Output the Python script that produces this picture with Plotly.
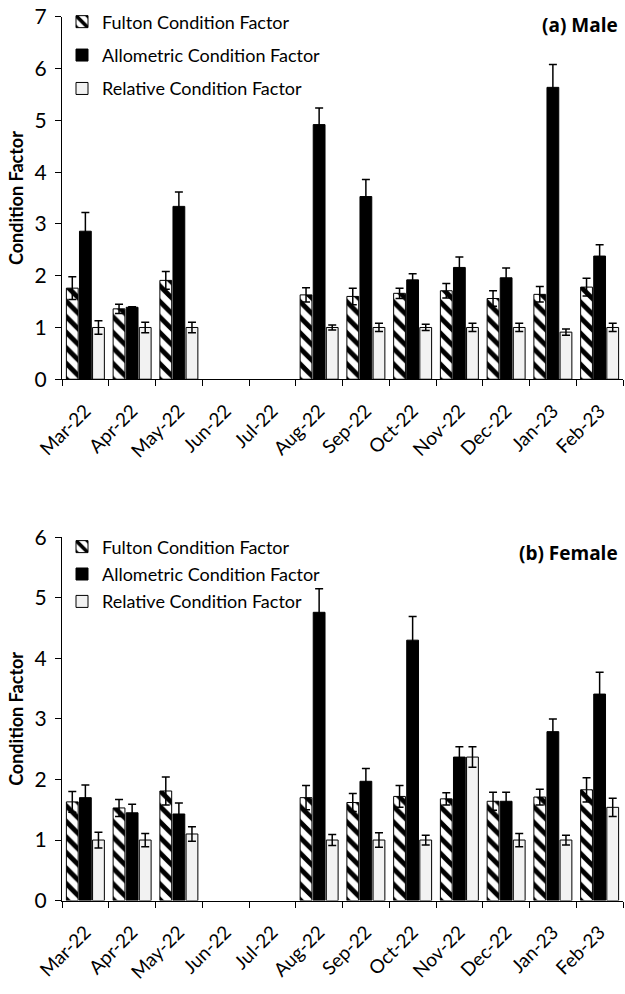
import plotly.graph_objects as go

months = ["Mar-22", "Apr-22", "May-22", "Jun-22", "Jul-22", "Aug-22",
          "Sep-22", "Oct-22", "Nov-22", "Dec-22", "Jan-23", "Feb-23"]

# (a) Male
fulton_m = [1.76, 1.36, 1.91, None, None, 1.63, 1.60, 1.66, 1.71, 1.56, 1.64, 1.78]
fulton_m_err = [0.22, 0.09, 0.17, None, None, 0.14, 0.16, 0.10, 0.14, 0.15, 0.15, 0.17]
allo_m = [2.86, 1.39, 3.34, None, None, 4.92, 3.53, 1.92, 2.16, 1.96, 5.64, 2.38]
allo_m_err = [0.36, 0.01, 0.28, None, None, 0.32, 0.33, 0.12, 0.20, 0.19, 0.44, 0.22]
rel_m = [1.00, 1.00, 1.00, None, None, 1.00, 1.00, 1.00, 1.00, 1.00, 0.91, 1.00]
rel_m_err = [0.13, 0.10, 0.10, None, None, 0.05, 0.08, 0.06, 0.08, 0.08, 0.06, 0.08]

# (b) Female
fulton_f = [1.63, 1.53, 1.81, None, None, 1.70, 1.62, 1.72, 1.68, 1.64, 1.71, 1.83]
fulton_f_err = [0.17, 0.14, 0.23, None, None, 0.20, 0.15, 0.18, 0.10, 0.15, 0.13, 0.20]
allo_f = [1.70, 1.45, 1.43, None, None, 4.76, 1.97, 4.30, 2.37, 1.64, 2.79, 3.41]
allo_f_err = [0.21, 0.14, 0.18, None, None, 0.39, 0.21, 0.39, 0.17, 0.15, 0.21, 0.36]
rel_f = [1.00, 1.00, 1.10, None, None, 1.00, 1.00, 1.00, 2.37, 1.00, 1.00, 1.54]
rel_f_err = [0.13, 0.11, 0.12, None, None, 0.09, 0.12, 0.08, 0.17, 0.11, 0.08, 0.15]

series_names = ["Fulton Condition Factor", "Allometric Condition Factor",
                "Relative Condition Factor"]

FONT = "Lato"

def err(arr):
    return dict(type="data", array=[e if e is not None else 0 for e in arr],
                visible=True, color="black", thickness=1.5, width=4)

styles = [
    dict(color="white", line=dict(color="black", width=1),
         pattern=dict(shape="\\", fgcolor="black", bgcolor="white",
                      size=11, solidity=0.45, fillmode="replace", fgopacity=1)),
    dict(color="black", line=dict(color="black", width=1)),
    dict(color="#f2f2f2", line=dict(color="black", width=1)),
]

fig = go.Figure()

panels = [
    ("x", "y", "legend", [(fulton_m, fulton_m_err), (allo_m, allo_m_err), (rel_m, rel_m_err)]),
    ("x2", "y2", "legend2", [(fulton_f, fulton_f_err), (allo_f, allo_f_err), (rel_f, rel_f_err)]),
]

for xa, ya, lg, data in panels:
    for i, (vals, errs) in enumerate(data):
        fig.add_trace(go.Bar(
            x=months, y=vals, name=series_names[i],
            marker=styles[i], error_y=err(errs),
            xaxis=xa, yaxis=ya, legend=lg, legendgroup=f"{lg}{i}",
        ))

axis_common = dict(showline=True, linecolor="black", linewidth=1.2,
                   ticks="outside", ticklen=6, tickcolor="black",
                   showgrid=False, zeroline=False)

xcommon = dict(axis_common, tickangle=-45, tickson="boundaries",
               ticklabelstandoff=12,
               tickfont=dict(family=FONT, size=19, color="black"))
ycommon = dict(axis_common, dtick=1, ticklabelstandoff=4,
               tickfont=dict(family=FONT, size=21, color="black"),
               title=dict(text="<b>Condition Factor</b>",
                          font=dict(family=FONT, size=18, color="black"),
                          standoff=6))

top_dom = [0.6236, 0.9990]
bot_dom = [0.0833, 0.4599]

legend_common = dict(font=dict(family=FONT, size=18, color="black"),
                     bgcolor="rgba(0,0,0,0)", traceorder="grouped",
                     xanchor="left", yanchor="top", itemwidth=30)

fig.update_layout(
    width=625, height=994,
    margin=dict(l=62, r=2, t=12, b=10),
    paper_bgcolor="white", plot_bgcolor="white",
    barmode="group", bargap=0.16, bargroupgap=0.1,
    xaxis=dict(xcommon, anchor="y", domain=[0, 1]),
    yaxis=dict(ycommon, anchor="x", domain=top_dom, range=[0, 7]),
    xaxis2=dict(xcommon, anchor="y2", domain=[0, 1]),
    yaxis2=dict(ycommon, anchor="x2", domain=bot_dom, range=[0, 6]),
    legend=dict(legend_common, x=0.0, y=1.013, tracegroupgap=7),
    legend2=dict(legend_common, x=0.0, y=0.469, tracegroupgap=1),
    showlegend=True,
    annotations=[
        dict(text="<b>(a) Male</b>", x=0.995, y=1.006, xref="paper", yref="paper",
             xanchor="right", yanchor="top", showarrow=False,
             font=dict(family="Open Sans", size=19, color="black")),
        dict(text="<b>(b) Female</b>", x=0.995, y=0.459, xref="paper", yref="paper",
             xanchor="right", yanchor="top", showarrow=False,
             font=dict(family="Open Sans", size=19, color="black")),
    ],
)

fig.write_html("out.html", config={"displayModeBar": False},
               post_script="document.body.style.margin='0';")
